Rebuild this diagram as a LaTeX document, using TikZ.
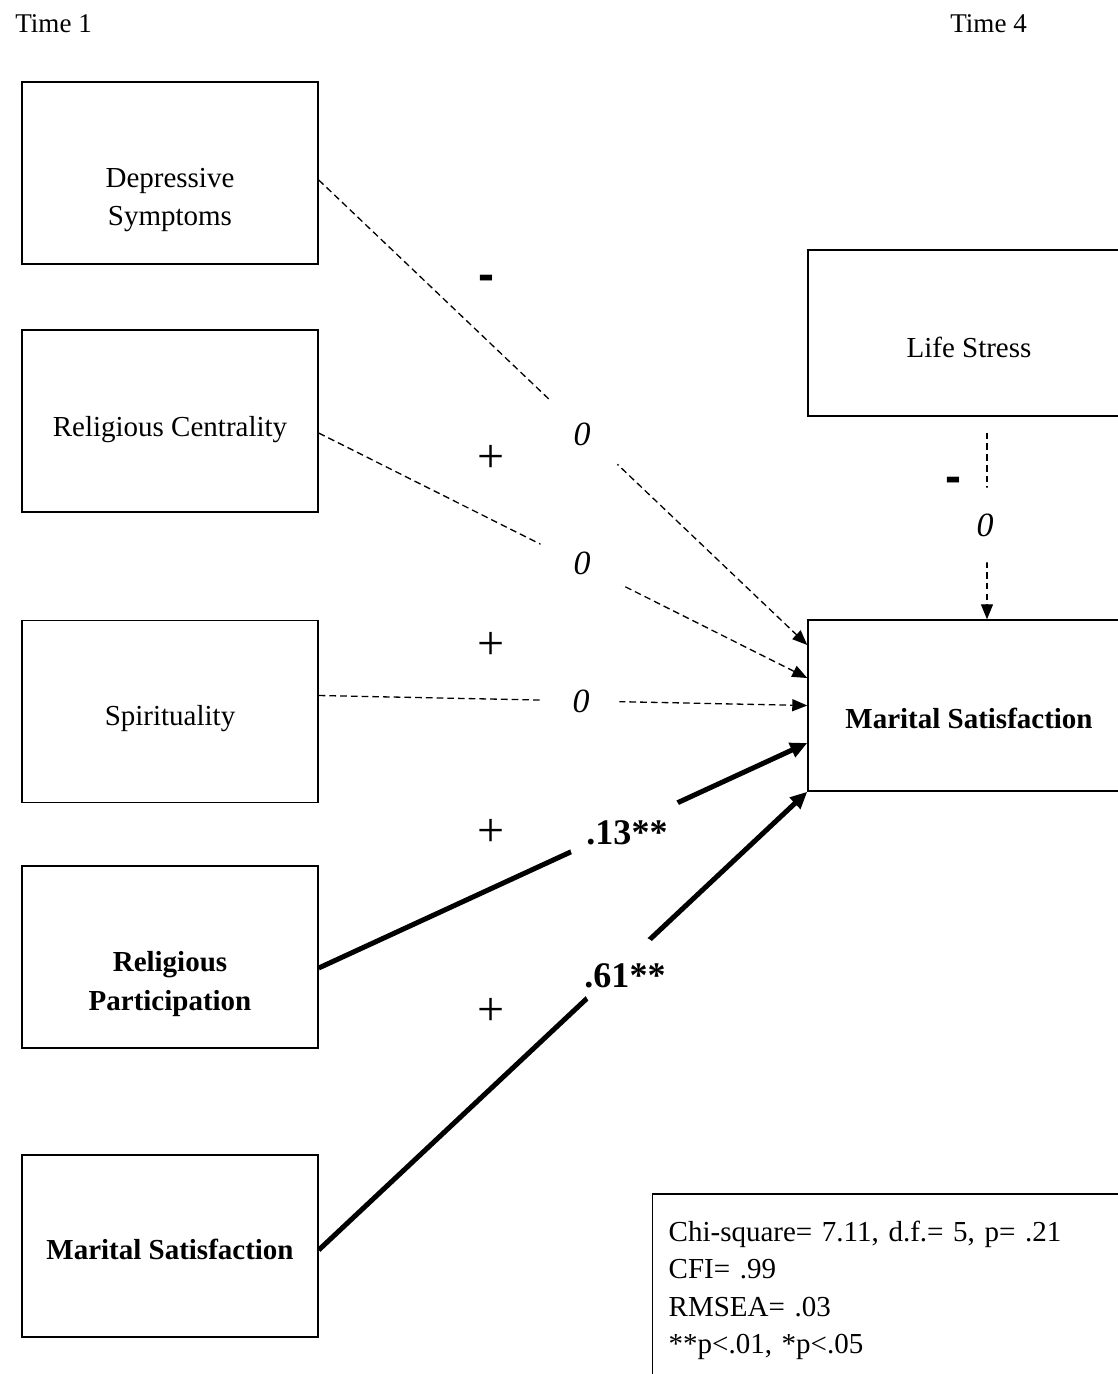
\documentclass[tikz,border=0pt]{standalone}
\usepackage{fontspec}
\setmainfont{Liberation Serif}
\newfontfamily\signfont{Liberation Sans}
\usetikzlibrary{arrows.meta}

\tikzset{
  box/.style={draw, line width=0.85pt, inner sep=0pt, minimum width=5.92cm, minimum height=3.64cm},
  widebox/.style={box, minimum width=6.44cm},
  boxtext/.style={inner sep=0pt, align=center, font=\fontsize{16.5}{21.9}\selectfont},
  boldtext/.style={inner sep=0pt, align=center, font=\fontsize{16.5}{21.9}\selectfont\bfseries},
  timelabel/.style={inner sep=0pt, anchor=west, font=\fontsize{15.4}{18}\selectfont},
  plussign/.style={inner sep=0pt, font=\fontsize{27.3}{30}\selectfont},
  minussign/.style={inner sep=0pt, anchor=base, font=\signfont\bfseries\fontsize{27.3}{30}\selectfont},
  zero/.style={circle, fill=white, inner sep=0pt, font=\fontsize{19.3}{22}\selectfont\itshape},
  coef/.style={circle, fill=white, inner sep=0pt, font=\fontsize{20.5}{24}\selectfont\bfseries},
  nsig/.style={line width=0.74pt, dash pattern=on 3.8pt off 2.3pt, -{Triangle[length=0.3cm, width=0.24cm]}},
  sig/.style={line width=2.85pt, -{Triangle[length=0.34cm, width=0.3cm]}},
  fitbox/.style={draw, line width=0.85pt, anchor=north west, inner xsep=0.32cm, inner ysep=0.54cm,
    text width=12cm, text depth=5cm, align=left, font=\fontsize{16.5}{21.3}\selectfont},
}

\begin{document}
\begin{tikzpicture}[x=0.02cm, y=-0.02cm]
\useasboundingbox (0,0) rectangle (1118,1374);
\fill[white] (0,0) rectangle (1118,1374);
\clip (0,0) rectangle (1118,1374);

% wave labels
\node[timelabel] (t1) at (15,24) {Time 1};
\node[timelabel] (t4) at (950,24) {Time 4};

% Time 1 predictors
\node[box] (dep) at (170,173) {};
\node[box] (rc)  at (170,421) {};
\node[box] (sp)  at (170,711.5) {};
\node[box] (rp)  at (170,957) {};
\node[box] (msl) at (170,1246) {};

\node[boxtext]  (dep-t) at (170,200)  {Depressive\\Symptoms};
\node[boxtext]  (rc-t)  at (170,430)  {Religious Centrality};
\node[boxtext]  (sp-t)  at (170,719)  {Spirituality};
\node[boldtext] (rp-t)  at (170,984)  {Religious\\Participation};
\node[boldtext] (msl-t) at (170,1249) {Marital Satisfaction};

% Time 4 variables
\node[widebox, minimum height=3.32cm] (ls)  at (969,333)   {};
\node[widebox, minimum height=3.42cm] (msr) at (969,705.5) {};
\node[boxtext]  (ls-t)  at (969,347) {Life Stress};
\node[boldtext] (msr-t) at (969,718) {Marital Satisfaction};

% paths: dashed = non-significant, bold = significant
\draw[nsig] ([yshift=-0.14cm]dep.east) -- ([yshift=1.21cm]msr.west);
\draw[nsig] ([yshift=-0.24cm]rc.east)  -- ([yshift=0.55cm]msr.west);
\draw[nsig] ([yshift=0.32cm]sp.east)   -- (msr.west);
\draw[sig]  ([yshift=-0.22cm]rp.east)  -- ([yshift=-0.75cm]msr.west);
\draw[sig]  ([yshift=-0.08cm]msl.east) -- (msr.south west);
\draw[nsig, shorten <=0.32cm] ([xshift=0.36cm]ls.south) -- ([xshift=0.36cm]msr.north);

% path estimates
\node[zero, minimum size=1.86cm] (z1) at (582,434) {0};
\node[zero, minimum size=1.82cm] (z2) at (582,563) {0};
\node[zero, minimum size=1.54cm] (z3) at (581,701) {0};
\node[zero, minimum size=1.5cm]  (z4) at (985,525) {0};
\node[coef, minimum size=2.36cm] (c1) at (627,833) {.13**};
\node[coef, minimum size=1.76cm] (c2) at (625,976) {.61**};

% hypothesised signs
\node[minussign] (h1) at (486,290.5) {-};
\node[plussign]  (h2) at (491,459)   {+};
\node[plussign]  (h3) at (491,646)   {+};
\node[plussign]  (h4) at (491,833)   {+};
\node[plussign]  (h5) at (491,1012)  {+};
\node[minussign] (h6) at (953,492.5) {-};

% model fit
\node[fitbox] (fit) at (652,1193) {Chi-square= 7.11, d.f.= 5, p= .21\\CFI= .99\\RMSEA= .03\\{}**p<.01, *p<.05};
\end{tikzpicture}
\end{document}
